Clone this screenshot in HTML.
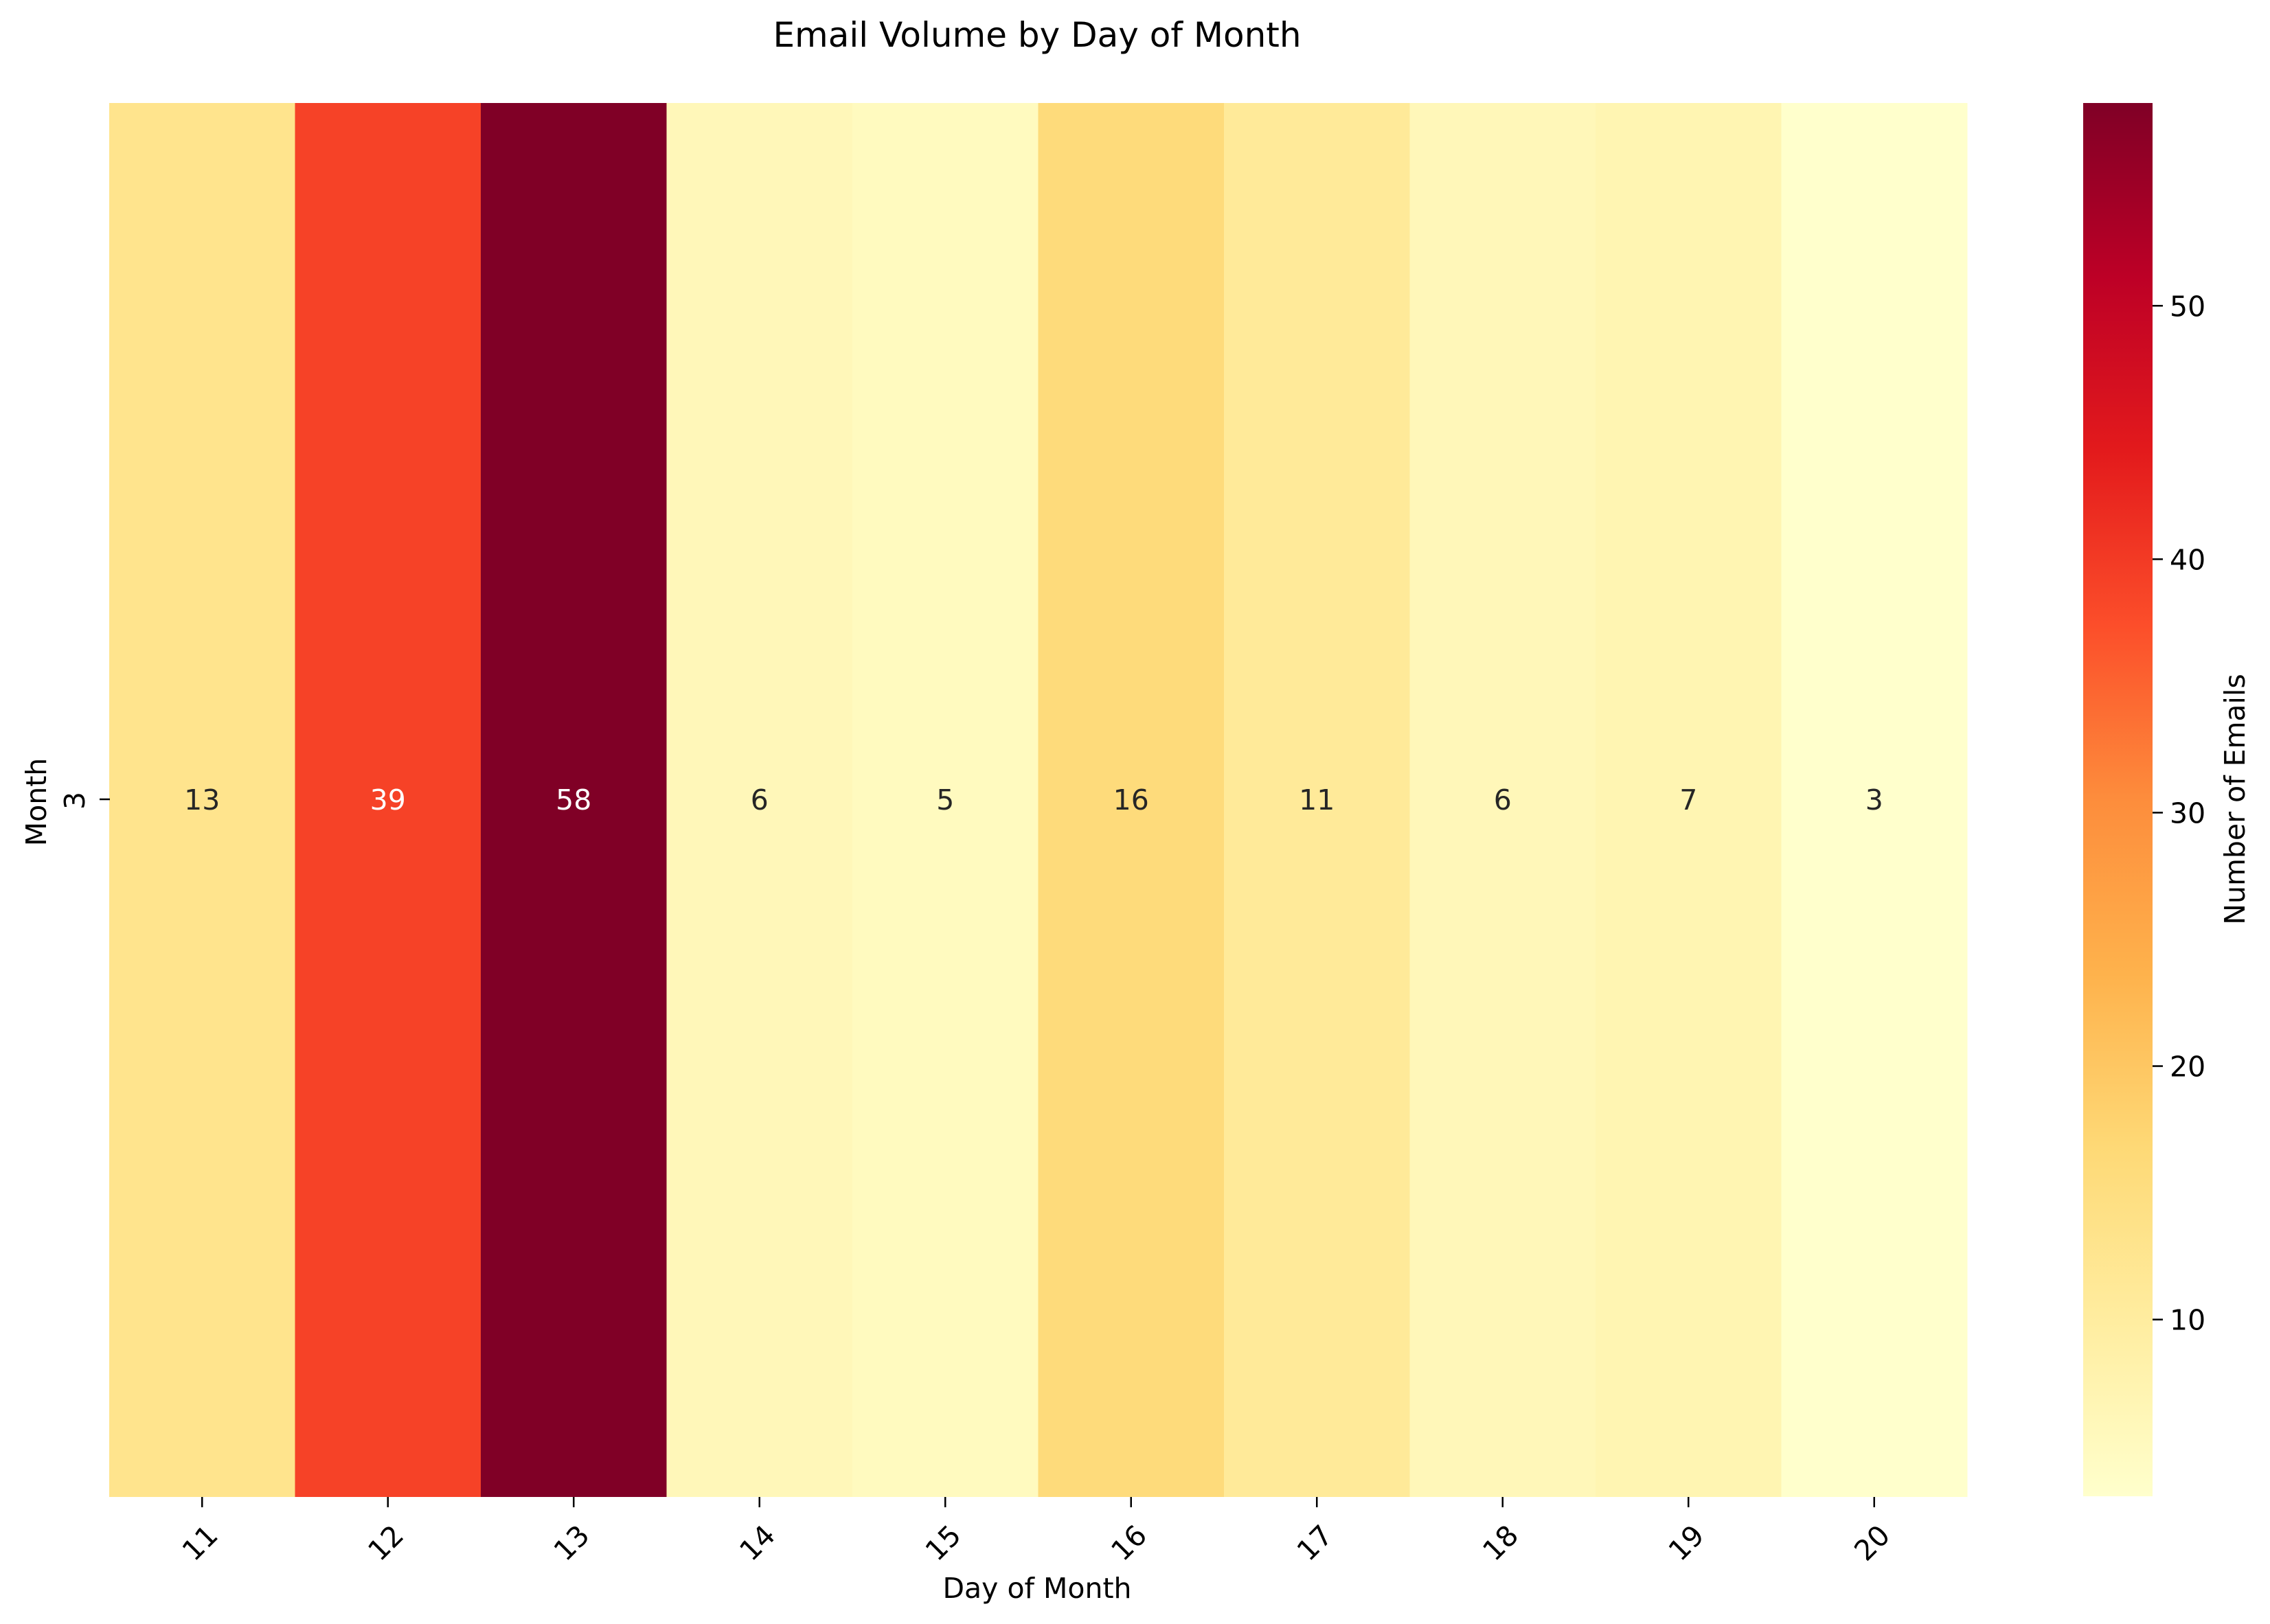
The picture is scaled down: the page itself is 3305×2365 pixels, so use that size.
<!DOCTYPE html>
<html><head><meta charset="utf-8"><style>
html,body{margin:0;padding:0;background:#fff;}
svg{display:block;font-family:"DejaVu Sans","Liberation Sans",sans-serif;}
</style></head><body>
<svg id="chart" width="3305" height="2365" viewBox="0 0 3305 2365" xmlns="http://www.w3.org/2000/svg">
<defs>
<linearGradient id="cbgrad" x1="0" y1="1" x2="0" y2="0">
<stop offset="0" stop-color="#ffffcc"/><stop offset="0.125" stop-color="#ffeda0"/><stop offset="0.25" stop-color="#fed976"/><stop offset="0.375" stop-color="#feb24c"/><stop offset="0.5" stop-color="#fd8d3c"/><stop offset="0.625" stop-color="#fc4e2a"/><stop offset="0.75" stop-color="#e31a1c"/><stop offset="0.875" stop-color="#bd0026"/><stop offset="1" stop-color="#800026"/>
</linearGradient>
</defs>
<text x="1510" y="68" font-size="50" text-anchor="middle">Email Volume by Day of Month</text>
<g id="cells"></g>
<g id="xticks"></g>
<text x="1510" y="2327" font-size="41" text-anchor="middle">Day of Month</text>
<text transform="translate(67,1168) rotate(-90)" font-size="41" text-anchor="middle">Month</text>
<line x1="160" y1="1164" x2="145" y2="1164" stroke="#000" stroke-width="2.5"/>
<text transform="translate(123,1166) rotate(-90)" font-size="41" text-anchor="middle">3</text>
<rect x="3033" y="150" width="101" height="2029" fill="url(#cbgrad)"/>
<g id="cbticks"></g>
<text transform="translate(3268,1164) rotate(-90)" font-size="41" text-anchor="middle">Number of Emails</text>
</svg>
<script>
const days = ["11","12","13","14","15","16","17","18","19","20"];
const emails = [13,39,58,6,5,16,11,6,7,3];
const cbTicks = [10,20,30,40,50];
const NS="http://www.w3.org/2000/svg";
const X0=159,X1=2864,Y0=150,Y1=2180,CB0=3033,CB1=3134;
const vmin=Math.min(...emails), vmax=Math.max(...emails);
const stops=["#ffffcc","#ffeda0","#fed976","#feb24c","#fd8d3c","#fc4e2a","#e31a1c","#bd0026","#800026"].map(h=>[1,3,5].map(i=>parseInt(h.substr(i,2),16)));
function color(v){let t=(v-vmin)/(vmax-vmin);t=Math.max(0,Math.min(1,t))*8;const i=Math.min(7,Math.floor(t)),f=t-i;const c=stops[i].map((a,k)=>Math.round(a+(stops[i+1][k]-a)*f));return [c,`rgb(${c.join(",")})`];}
const cw=(X1-X0)/days.length;
function xs(i){return X0+i*cw;}
function cy(v){return Y1-(v-vmin)/(vmax-vmin)*(Y1-Y0);}
const cells=document.getElementById("cells"),xt=document.getElementById("xticks"),cb=document.getElementById("cbticks");
days.forEach((d,i)=>{
 const [c,col]=color(emails[i]);
 const r=document.createElementNS(NS,"rect");
 r.setAttribute("x",xs(i));r.setAttribute("y",Y0);r.setAttribute("width",cw+0.5);r.setAttribute("height",Y1-Y0);r.setAttribute("fill",col);
 
 
 cells.appendChild(r);
 const lum=0.2126*c[0]+0.7152*c[1]+0.0722*c[2];
 const t=document.createElementNS(NS,"text");
 t.setAttribute("x",xs(i)+cw/2);t.setAttribute("y",1179);t.setAttribute("font-size","41");t.setAttribute("text-anchor","middle");
 t.setAttribute("fill",lum<128?"#fff":"#262626");t.textContent=emails[i];
 
 
 cells.appendChild(t);
 const tk=document.createElementNS(NS,"line");
 const cx=xs(i)+cw/2;
 tk.setAttribute("x1",cx);tk.setAttribute("x2",cx);tk.setAttribute("y1",Y1);tk.setAttribute("y2",Y1+15);tk.setAttribute("stroke","#000");tk.setAttribute("stroke-width","2.5");
 
 
 xt.appendChild(tk);
 const tl=document.createElementNS(NS,"text");
 tl.setAttribute("transform",`translate(${cx-3},${Y1+67}) rotate(-45)`);tl.setAttribute("font-size","41");tl.setAttribute("text-anchor","middle");tl.setAttribute("dominant-baseline","central");tl.textContent=d;
 
 
 xt.appendChild(tl);
});
cbTicks.forEach(v=>{
 const y=cy(v);
 const l=document.createElementNS(NS,"line");
 l.setAttribute("x1",CB1);l.setAttribute("x2",CB1+15);l.setAttribute("y1",y);l.setAttribute("y2",y);l.setAttribute("stroke","#000");l.setAttribute("stroke-width","2.5");
 
 
 cb.appendChild(l);
 const t=document.createElementNS(NS,"text");
 t.setAttribute("x",CB1+25);t.setAttribute("y",y+15);t.setAttribute("font-size","41");t.textContent=v;
 
 
 cb.appendChild(t);
});
</script>
</body></html>
